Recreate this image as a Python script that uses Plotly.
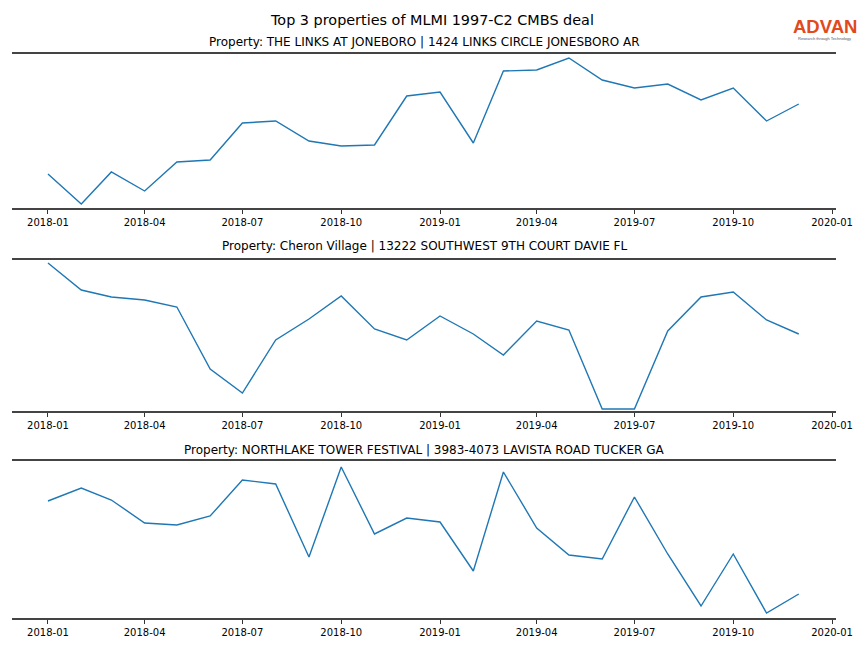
import plotly.graph_objects as go
import pandas as pd

months = pd.date_range("2018-01-01", periods=24, freq="MS")

titles = [
    "Property: THE LINKS AT JONEBORO | 1424 LINKS CIRCLE JONESBORO AR",
    "Property: Cheron Village | 13222 SOUTHWEST 9TH COURT DAVIE FL",
    "Property: NORTHLAKE TOWER FESTIVAL | 3983-4073 LAVISTA ROAD TUCKER GA",
]

links_values = [34, 4, 36, 17, 46, 48, 85, 87, 67, 62, 63, 112,
                116, 65, 137, 138, 150, 128, 120, 124, 108, 120, 87, 104]
cheron_values = [148, 121, 114, 111, 104, 42, 18, 71, 92, 115, 82, 71,
                 95, 77, 56, 90, 81, 2, 2, 80, 114, 119, 91, 77]
northlake_values = [117, 130, 118, 95, 93, 102, 138, 134, 61, 151, 84, 100,
                    96, 47, 146, 90, 63, 59, 121, 64, 12, 64, 5, 24]

series = [links_values, cheron_values, northlake_values]
y_ranges = [[0, 154], [0, 151], [0, 157]]
# pixel positions (top, bottom) of each panel
panels = [(54, 208), (260, 411), (461, 618)]
title_y = [42, 246, 450]

W, H = 864, 648
fig = go.Figure()
tickvals = pd.date_range("2018-01-01", periods=9, freq="3MS")
ticktext = [d.strftime("%Y-%m") for d in tickvals]

for i, vals in enumerate(series):
    ax = "" if i == 0 else str(i + 1)
    fig.add_trace(go.Scatter(x=months, y=vals, mode="lines",
                             line=dict(color="#1f77b4", width=1.4),
                             xaxis="x" + ax, yaxis="y" + ax, showlegend=False))
    top, bot = panels[i]
    fig.layout["xaxis" + ax] = dict(
        domain=[0, 1], anchor="y" + ax,
        range=["2017-11-28 12:00", "2020-01-04 16:00"],
        tickvals=tickvals, ticktext=ticktext,
        showline=True, mirror=True, linecolor="#444444", linewidth=1.6,
        ticks="outside", ticklen=4, tickcolor="#333333", tickwidth=1,
        showgrid=False, zeroline=False,
        tickfont=dict(family="DejaVu Sans", size=10, color="#000000"),
    )
    fig.layout["yaxis" + ax] = dict(
        domain=[(H - bot) / H, (H - top) / H], anchor="x" + ax,
        range=y_ranges[i], showticklabels=False, showgrid=False,
        zeroline=False, showline=False, ticks="",
    )
    fig.add_annotation(text=titles[i], x=0.5, xref="paper",
                       y=(H - title_y[i]) / H, yref="paper",
                       showarrow=False, xanchor="center", yanchor="middle",
                       font=dict(family="DejaVu Sans", size=12, color="#000000"))

fig.add_annotation(text="Top 3 properties of MLMI 1997-C2 CMBS deal",
                   x=(432 - 12) / (W - 40), xref="paper",
                   y=(H - 20) / H, yref="paper", showarrow=False,
                   xanchor="center", yanchor="middle",
                   font=dict(family="DejaVu Sans", size=14.4, color="#000000"))

# logo
fig.add_annotation(text="<b>ADVAN</b>", x=(825 - 12) / (W - 40), xref="paper",
                   y=(H - 27) / H, yref="paper", showarrow=False,
                   xanchor="center", yanchor="middle",
                   font=dict(family="Liberation Sans", size=18.5, color="#e04a1c"))
fig.add_annotation(text="Research through Technology", x=(824 - 12) / (W - 40), xref="paper",
                   y=(H - 38) / H, yref="paper", showarrow=False,
                   xanchor="center", yanchor="middle",
                   font=dict(family="Liberation Sans", size=4, color="#555555"))

fig.update_layout(width=W, height=H, margin=dict(l=12, r=28, t=0, b=0),
                  paper_bgcolor="white", plot_bgcolor="white",
                  template="none", showlegend=False)
fig.write_html("out.html", config={"displayModeBar": False},
               post_script="document.body.style.margin='0';document.body.style.padding='0';")
